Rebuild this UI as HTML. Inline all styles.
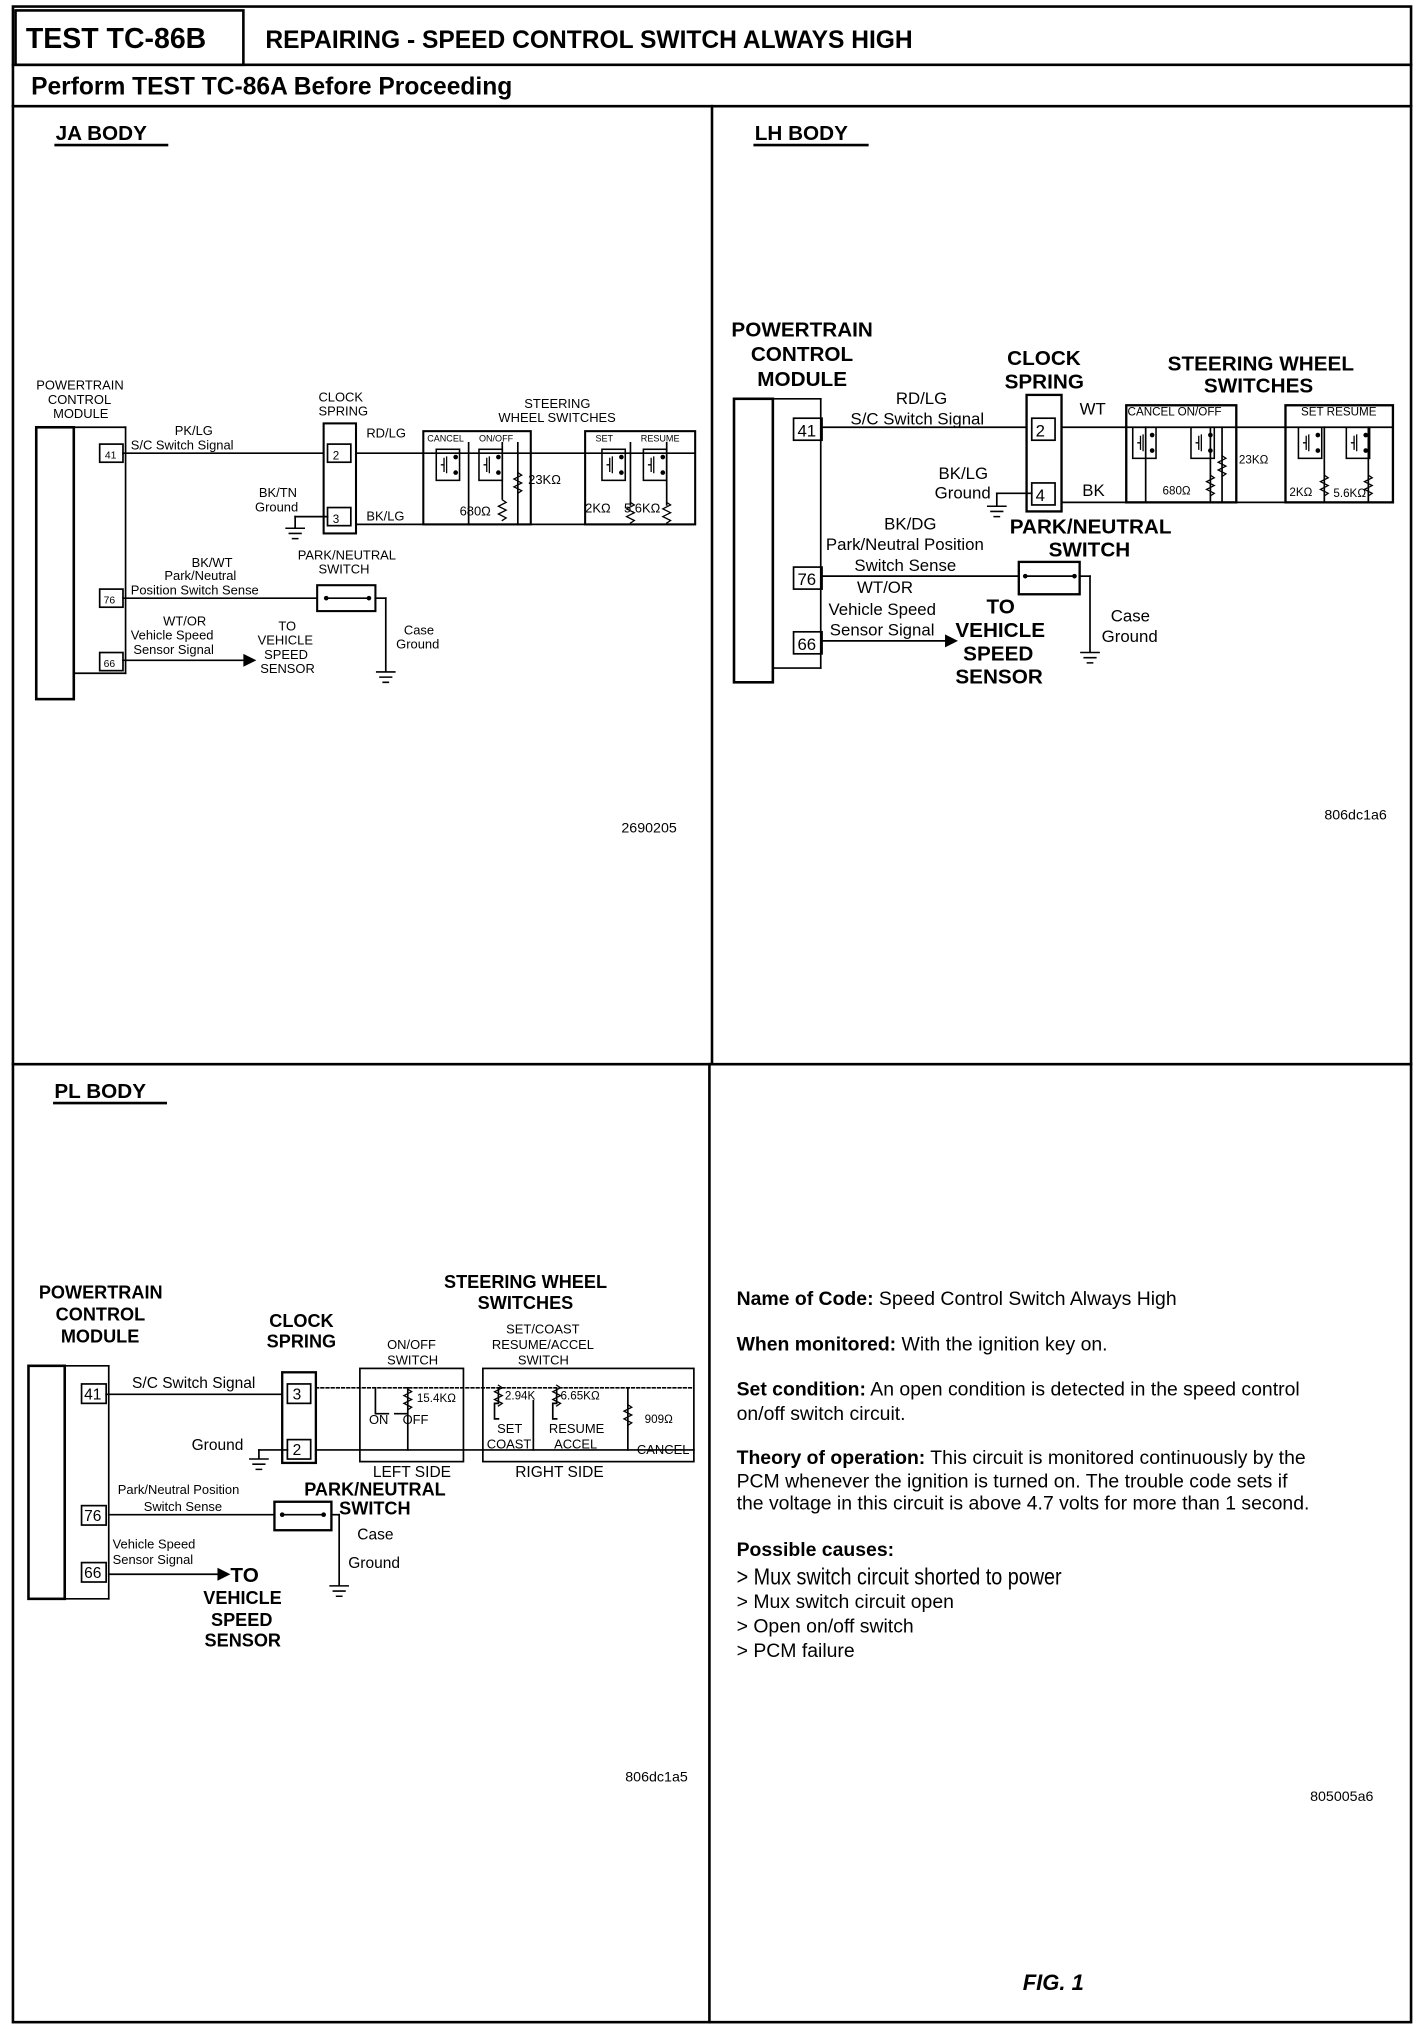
<!DOCTYPE html>
<html><head><meta charset="utf-8"><style>
html,body{margin:0;padding:0;background:#fff}
svg{display:block}
text{font-family:"Liberation Sans",sans-serif;fill:#000}
.b{font-weight:bold}
.s{font-size:10px}
.m{font-size:13px}
.L{font-size:16px;font-weight:bold}
.t{font-size:15px}
</style></head><body>
<svg width="1424" height="2030" viewBox="0 0 1100 1568" xmlns="http://www.w3.org/2000/svg" stroke-linecap="square">
<defs>
<g id="sw"><rect x="0" y="0" width="18" height="24" fill="none" stroke="#000" stroke-width="1.2"/><path d="M6 7 v10 M6 12 h-2 M8 6 v12" stroke="#000" fill="none" stroke-width="1"/><circle cx="15" cy="6" r="1.8"/><circle cx="15" cy="18" r="1.8"/></g>
<g id="res"><path d="M0 0 l3 2 l-6 3 l6 3 l-6 3 l6 3 l-3 2" fill="none" stroke="#000" stroke-width="1"/></g>
<g id="gnd"><path d="M-7 0 h14 M-4.5 4 h9 M-2 8 h4" stroke="#000" stroke-width="1.2"/></g>
</defs>
<g fill="none" stroke="#000">
<rect x="10" y="5" width="1080" height="1557" stroke-width="2"/>
<rect x="12" y="8" width="176" height="42" stroke-width="2"/>
<line x1="10" y1="50" x2="1090" y2="50" stroke-width="2"/>
<line x1="10" y1="82" x2="1090" y2="82" stroke-width="2"/>
<line x1="550" y1="82" x2="550" y2="822" stroke-width="2"/>
<line x1="548" y1="822" x2="548" y2="1562" stroke-width="2"/>
<line x1="10" y1="822" x2="1090" y2="822" stroke-width="2"/>
</g>
<text x="20" y="37" class="b" font-size="22">TEST TC-86B</text>
<text x="205" y="37" class="b" font-size="19">REPAIRING - SPEED CONTROL SWITCH ALWAYS HIGH</text>
<text x="24" y="73" class="b" font-size="19">Perform TEST TC-86A Before Proceeding</text>

<!-- JA BODY -->
<text x="43" y="108" class="L" font-size="17">JA BODY</text>
<line x1="43" y1="112" x2="129" y2="112" stroke="#000" stroke-width="2"/>
<g fill="none" stroke="#000" stroke-width="1.3">
<rect x="28" y="330" width="29" height="210" stroke-width="2"/>
<line x1="57" y1="330" x2="97" y2="330"/><line x1="97" y1="330" x2="97" y2="520"/><line x1="57" y1="520" x2="97" y2="520"/>
<rect x="77" y="343" width="18" height="14"/><rect x="77" y="455" width="18" height="14"/><rect x="77" y="504" width="18" height="14"/>
<line x1="95" y1="350" x2="250" y2="350"/>
<rect x="250" y="327" width="25" height="85" stroke-width="1.6"/>
<rect x="253" y="343" width="18" height="14"/><rect x="253" y="392" width="18" height="14"/>
<line x1="275" y1="350" x2="537" y2="350"/>
<line x1="275" y1="405" x2="537" y2="405"/>
<line x1="253" y1="399" x2="228" y2="399"/><line x1="228" y1="399" x2="228" y2="407"/>
<rect x="327" y="333" width="83" height="72" stroke-width="1.6"/>
<rect x="452" y="333" width="85" height="72" stroke-width="1.6"/>
<line x1="95" y1="462" x2="245" y2="462"/>
<rect x="245" y="452" width="45" height="20" stroke-width="1.6"/>
<line x1="252" y1="462" x2="285" y2="462"/>
<line x1="290" y1="462" x2="298" y2="462"/><line x1="298" y1="462" x2="298" y2="518"/>
<line x1="95" y1="510" x2="188" y2="510"/>
<line x1="362" y1="342" x2="362" y2="405"/><line x1="388" y1="342" x2="388" y2="385"/><line x1="400" y1="342" x2="400" y2="405"/>
<line x1="487" y1="342" x2="487" y2="390"/><line x1="515" y1="342" x2="515" y2="390"/>
</g>
<path d="M188 505 l10 5 l-10 5z"/>
<use href="#sw" x="337" y="347"/><use href="#sw" x="370" y="347"/>
<use href="#sw" x="465" y="347"/><use href="#sw" x="497" y="347"/>
<use href="#res" x="400" y="365"/><use href="#res" x="388" y="386"/><use href="#res" x="487" y="388"/><use href="#res" x="515" y="388"/>
<use href="#gnd" x="228" y="408"/><use href="#gnd" x="298" y="519"/>
<circle cx="252" cy="462" r="1.8"/><circle cx="285" cy="462" r="1.8"/>
<g class="s" font-size="9.5">
<text x="28" y="301">POWERTRAIN</text><text x="37" y="312">CONTROL</text><text x="41" y="323">MODULE</text>
<text x="81" y="354" font-size="8">41</text><text x="80" y="466" font-size="8">76</text><text x="80" y="515" font-size="8">66</text>
<text x="257" y="355" font-size="9">2</text><text x="257" y="404" font-size="9">3</text>
<text x="135" y="336">PK/LG</text><text x="101" y="347">S/C Switch Signal</text>
<text x="246" y="310">CLOCK</text><text x="246" y="321">SPRING</text>
<text x="283" y="338">RD/LG</text><text x="283" y="402">BK/LG</text>
<text x="200" y="384">BK/TN</text><text x="197" y="395">Ground</text>
<text x="405" y="315">STEERING</text><text x="385" y="326">WHEEL SWITCHES</text>
<text x="330" y="341" font-size="7">CANCEL</text><text x="370" y="341" font-size="7">ON/OFF</text>
<text x="460" y="341" font-size="7">SET</text><text x="495" y="341" font-size="7">RESUME</text>
<text x="408" y="374">23KΩ</text><text x="355" y="398">680Ω</text><text x="452" y="396">2KΩ</text><text x="482" y="396">5.6KΩ</text>
<text x="148" y="438">BK/WT</text><text x="127" y="448">Park/Neutral</text><text x="101" y="459">Position Switch Sense</text>
<text x="230" y="432">PARK/NEUTRAL</text><text x="246" y="443">SWITCH</text>
<text x="126" y="483">WT/OR</text><text x="101" y="494">Vehicle Speed</text><text x="103" y="505">Sensor Signal</text>
<text x="215" y="487">TO</text><text x="199" y="498">VEHICLE</text><text x="204" y="509">SPEED</text><text x="201" y="520">SENSOR</text>
<text x="312" y="490">Case</text><text x="306" y="501">Ground</text>
<text x="480" y="643" font-size="11">2690205</text>
</g>

<!-- LH BODY -->
<text x="583" y="108" class="L" font-size="17">LH BODY</text>
<line x1="583" y1="112" x2="670" y2="112" stroke="#000" stroke-width="2"/>
<g fill="none" stroke="#000" stroke-width="1.3">
<rect x="567" y="308" width="30" height="219" stroke-width="2"/>
<line x1="597" y1="308" x2="634" y2="308"/><line x1="634" y1="308" x2="634" y2="516"/><line x1="597" y1="516" x2="634" y2="516"/>
<rect x="613" y="323" width="22" height="17"/><rect x="613" y="438" width="22" height="17"/><rect x="613" y="488" width="22" height="17"/>
<line x1="635" y1="330" x2="793" y2="330"/>
<rect x="793" y="305" width="27" height="90" stroke-width="1.8"/>
<rect x="797" y="323" width="18" height="17"/><rect x="797" y="373" width="18" height="17"/>
<line x1="820" y1="330" x2="1075" y2="330"/><line x1="820" y1="388" x2="1075" y2="388"/>
<line x1="797" y1="381" x2="770" y2="381"/><line x1="770" y1="381" x2="770" y2="390"/>
<rect x="870" y="313" width="85" height="75" stroke-width="1.8"/>
<rect x="993" y="313" width="83" height="75" stroke-width="1.8"/>
<line x1="885" y1="330" x2="885" y2="388"/><line x1="935" y1="330" x2="935" y2="388"/><line x1="944" y1="330" x2="944" y2="388"/>
<line x1="1023" y1="330" x2="1023" y2="388"/><line x1="1057" y1="330" x2="1057" y2="388"/>
<line x1="635" y1="445" x2="787" y2="445"/>
<rect x="787" y="434" width="47" height="25" stroke-width="1.8"/>
<line x1="792" y1="445" x2="830" y2="445"/>
<line x1="834" y1="445" x2="842" y2="445"/><line x1="842" y1="445" x2="842" y2="503"/>
<line x1="635" y1="495" x2="730" y2="495"/>
</g>
<path d="M730 490 l10 5 l-10 5z"/>
<use href="#sw" x="875" y="330"/><use href="#sw" x="920" y="330"/>
<use href="#sw" x="1003" y="330"/><use href="#sw" x="1040" y="330"/>
<use href="#res" x="944" y="352"/><use href="#res" x="935" y="367"/><use href="#res" x="1023" y="367"/><use href="#res" x="1057" y="367"/>
<use href="#gnd" x="770" y="391"/><use href="#gnd" x="842" y="504"/>
<circle cx="792" cy="445" r="1.8"/><circle cx="830" cy="445" r="1.8"/>
<text x="565" y="260" class="b" font-size="16">POWERTRAIN</text><text x="580" y="279" class="b" font-size="16">CONTROL</text><text x="585" y="298" class="b" font-size="16">MODULE</text>
<text x="778" y="282" class="b" font-size="16">CLOCK</text><text x="776" y="300" class="b" font-size="16">SPRING</text>
<text x="902" y="286" class="b" font-size="16">STEERING WHEEL</text><text x="930" y="303" class="b" font-size="16">SWITCHES</text>
<text x="780" y="412" class="b" font-size="16">PARK/NEUTRAL</text><text x="810" y="430" class="b" font-size="16">SWITCH</text>
<text x="762" y="474" class="b" font-size="16">TO</text><text x="738" y="492" class="b" font-size="16">VEHICLE</text><text x="744" y="510" class="b" font-size="16">SPEED</text><text x="738" y="528" class="b" font-size="16">SENSOR</text>
<g class="m">
<text x="616" y="337">41</text><text x="616" y="452">76</text><text x="616" y="502">66</text>
<text x="800" y="337">2</text><text x="800" y="387">4</text>
<text x="692" y="312">RD/LG</text><text x="657" y="328">S/C Switch Signal</text>
<text x="834" y="320">WT</text><text x="836" y="383">BK</text>
<text x="725" y="370">BK/LG</text><text x="722" y="385">Ground</text>
<text x="683" y="409">BK/DG</text><text x="638" y="425">Park/Neutral Position</text><text x="660" y="441">Switch Sense</text>
<text x="662" y="458">WT/OR</text><text x="640" y="475">Vehicle Speed</text><text x="641" y="491">Sensor Signal</text>
<text x="858" y="480">Case</text><text x="851" y="496">Ground</text>
</g>
<g font-size="9"><text x="871" y="321">CANCEL ON/OFF</text><text x="1005" y="321">SET  RESUME</text>
<text x="957" y="358">23KΩ</text><text x="898" y="382">680Ω</text><text x="996" y="383">2KΩ</text><text x="1030" y="384">5.6KΩ</text></g>
<text x="1023" y="633" font-size="11">806dc1a6</text>

<!-- PL BODY -->
<text x="42" y="848" class="L" font-size="17">PL BODY</text>
<line x1="42" y1="852" x2="128" y2="852" stroke="#000" stroke-width="2"/>
<g fill="none" stroke="#000" stroke-width="1.3">
<rect x="22" y="1055" width="28" height="180" stroke-width="2"/>
<line x1="50" y1="1055" x2="84" y2="1055"/><line x1="84" y1="1055" x2="84" y2="1235"/><line x1="50" y1="1235" x2="84" y2="1235"/>
<rect x="63" y="1069" width="19" height="15"/><rect x="63" y="1163" width="19" height="15"/><rect x="63" y="1207" width="19" height="15"/>
<line x1="82" y1="1077" x2="218" y2="1077"/>
<rect x="218" y="1060" width="26" height="70" stroke-width="1.8"/>
<rect x="222" y="1069" width="18" height="15"/><rect x="222" y="1112" width="18" height="15"/>
<line x1="244" y1="1072" x2="536" y2="1072" stroke-dasharray="2 2"/>
<line x1="244" y1="1120" x2="536" y2="1120"/>
<line x1="222" y1="1120" x2="200" y2="1120"/><line x1="200" y1="1120" x2="200" y2="1126"/>
<rect x="278" y="1057" width="80" height="72"/>
<rect x="373" y="1057" width="163" height="72"/>
<path d="M290 1072 v20 h10 M315 1072 v48 M315 1092 h-10"/>
<path d="M385 1072 v12 h-3 v12 h3 M430 1072 v12 h-3 v12 h3 M485 1072 v48 M412 1082 v38"/>
<line x1="84" y1="1170" x2="212" y2="1170"/>
<rect x="212" y="1160" width="44" height="22" stroke-width="1.8"/>
<line x1="218" y1="1170" x2="250" y2="1170"/>
<line x1="256" y1="1170" x2="262" y2="1170"/><line x1="262" y1="1170" x2="262" y2="1224"/>
<line x1="84" y1="1216" x2="168" y2="1216"/>
</g>
<path d="M168 1211 l10 5 l-10 5z"/>
<use href="#res" x="315" y="1073"/><use href="#res" x="385" y="1070"/><use href="#res" x="430" y="1070"/><use href="#res" x="485" y="1085"/>
<use href="#gnd" x="200" y="1127"/><use href="#gnd" x="262" y="1225"/>
<circle cx="218" cy="1170" r="1.8"/><circle cx="250" cy="1170" r="1.8"/>
<g class="b" font-size="14">
<text x="30" y="1003">POWERTRAIN</text><text x="43" y="1020">CONTROL</text><text x="47" y="1037">MODULE</text>
<text x="208" y="1025">CLOCK</text><text x="206" y="1041">SPRING</text>
<text x="343" y="995">STEERING WHEEL</text><text x="369" y="1011">SWITCHES</text>
<text x="235" y="1155">PARK/NEUTRAL</text><text x="262" y="1170">SWITCH</text>
<text x="178" y="1222" font-size="16">TO</text><text x="157" y="1239">VEHICLE</text><text x="163" y="1256">SPEED</text><text x="158" y="1272">SENSOR</text>
</g>
<g font-size="12">
<text x="65" y="1081">41</text><text x="65" y="1175">76</text><text x="65" y="1219">66</text>
<text x="226" y="1081">3</text><text x="226" y="1124">2</text>
<text x="102" y="1072">S/C Switch Signal</text><text x="148" y="1120">Ground</text>
<text x="276" y="1189">Case</text><text x="269" y="1211">Ground</text>
</g>
<g font-size="10">
<text x="299" y="1042">ON/OFF</text><text x="299" y="1054">SWITCH</text>
<text x="391" y="1030">SET/COAST</text><text x="380" y="1042">RESUME/ACCEL</text><text x="400" y="1054">SWITCH</text>
<text x="322" y="1083" font-size="9">15.4KΩ</text><text x="285" y="1100">ON</text><text x="311" y="1100">OFF</text>
<text x="390" y="1081" font-size="9">2.94K</text><text x="433" y="1081" font-size="9">6.65KΩ</text><text x="498" y="1099" font-size="9">909Ω</text>
<text x="384" y="1107">SET</text><text x="376" y="1119">COAST</text><text x="424" y="1107">RESUME</text><text x="428" y="1119">ACCEL</text><text x="492" y="1123">CANCEL</text>
<text x="288" y="1141" font-size="12">LEFT SIDE</text><text x="398" y="1141" font-size="12">RIGHT SIDE</text>
<text x="91" y="1154">Park/Neutral Position</text><text x="111" y="1167">Switch Sense</text>
<text x="87" y="1196">Vehicle Speed</text><text x="87" y="1208">Sensor Signal</text>
</g>
<text x="483" y="1376" font-size="11">806dc1a5</text>

<!-- Text panel -->
<g class="t">
<text x="569" y="1008"><tspan class="b">Name of Code:</tspan> Speed Control Switch Always High</text>
<text x="569" y="1043"><tspan class="b">When monitored:</tspan> With the ignition key on.</text>
<text x="569" y="1078"><tspan class="b">Set condition:</tspan> An open condition is detected in the speed control</text>
<text x="569" y="1097">on/off switch circuit.</text>
<text x="569" y="1131"><tspan class="b">Theory of operation:</tspan> This circuit is monitored continuously by the</text>
<text x="569" y="1149">PCM whenever the ignition is turned on. The trouble code sets if</text>
<text x="569" y="1166">the voltage in this circuit is above 4.7 volts for more than 1 second.</text>
<text x="569" y="1202" class="b">Possible causes:</text>
<text x="569" y="1224" font-size="18" transform="translate(569 0) scale(0.85 1) translate(-569 0)">&gt; Mux switch circuit shorted to power</text>
<text x="569" y="1242">&gt; Mux switch circuit open</text>
<text x="569" y="1261">&gt; Open on/off switch</text>
<text x="569" y="1280">&gt; PCM failure</text>
</g>
<text x="1012" y="1391" font-size="11">805005a6</text>
<text x="790" y="1537" class="b" font-size="17" font-style="italic">FIG. 1</text>
</svg>
</body></html>
